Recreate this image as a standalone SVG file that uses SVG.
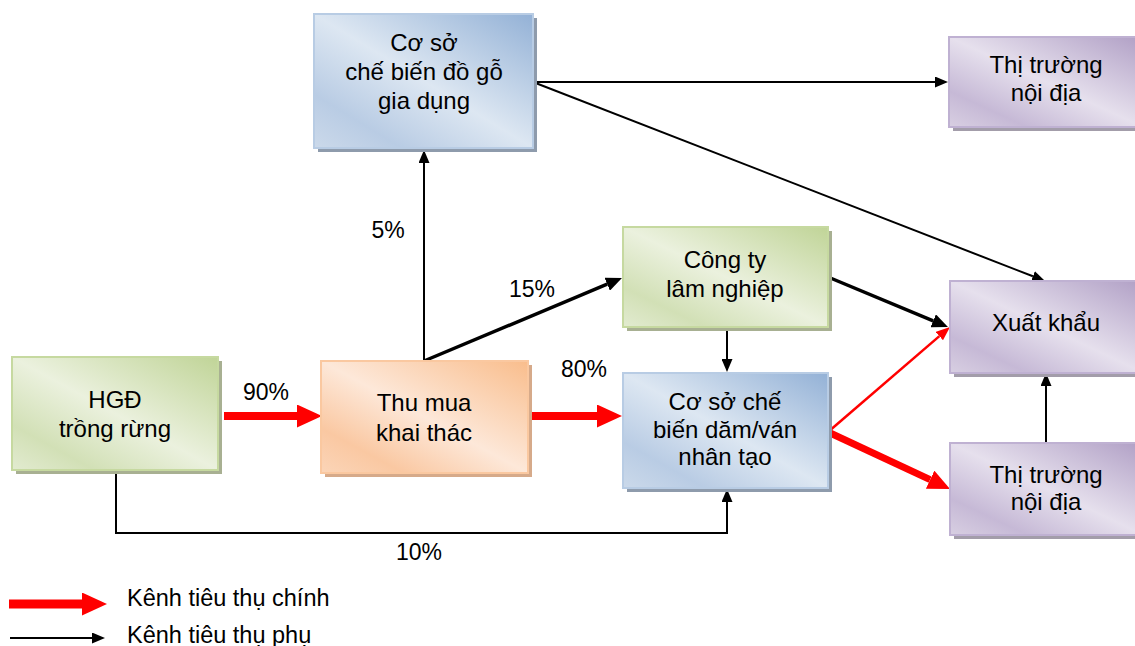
<svg xmlns="http://www.w3.org/2000/svg" width="1135" height="646" viewBox="0 0 1135 646">
<defs>
<linearGradient id="gBlue" x1="1" y1="0" x2="0" y2="1"><stop offset="0" stop-color="#93b1d6"/><stop offset="0.5" stop-color="#dde7f2"/><stop offset="0.8" stop-color="#b9cce4"/><stop offset="1" stop-color="#cbd9ea"/></linearGradient>
<linearGradient id="gGreen" x1="1" y1="0" x2="0" y2="1"><stop offset="0" stop-color="#c0d497"/><stop offset="0.5" stop-color="#ebf1de"/><stop offset="0.8" stop-color="#d2e0b6"/><stop offset="1" stop-color="#e2ebd0"/></linearGradient>
<linearGradient id="gPurple" x1="1" y1="0" x2="0" y2="1"><stop offset="0" stop-color="#b09fc5"/><stop offset="0.5" stop-color="#e6e0ed"/><stop offset="0.8" stop-color="#c6b9d6"/><stop offset="1" stop-color="#d8cfe2"/></linearGradient>
<linearGradient id="gOrange" x1="1" y1="0" x2="0" y2="1"><stop offset="0" stop-color="#f9bd8c"/><stop offset="0.5" stop-color="#fde8d9"/><stop offset="0.8" stop-color="#fac8a2"/><stop offset="1" stop-color="#fbd5b8"/></linearGradient>
<marker id="mRed" markerUnits="userSpaceOnUse" markerWidth="25" markerHeight="23" refX="0" refY="11.5" orient="auto"><path d="M0,0 L25,11.5 L0,23 z" fill="#ff0000"/></marker>
<marker id="mRedM" markerUnits="userSpaceOnUse" markerWidth="22" markerHeight="20" refX="0" refY="10" orient="auto"><path d="M0,0 L22,10 L0,20 z" fill="#ff0000"/></marker>
<marker id="mRedS" markerUnits="userSpaceOnUse" markerWidth="14" markerHeight="11" refX="0" refY="5.5" orient="auto"><path d="M0,0 L14,5.5 L0,11 z" fill="#ff0000"/></marker>
<marker id="mBlk" markerUnits="userSpaceOnUse" markerWidth="13" markerHeight="11" refX="0" refY="5.5" orient="auto"><path d="M0,0 L13,5.5 L0,11 z" fill="#000"/></marker>
<marker id="mBlkT" markerUnits="userSpaceOnUse" markerWidth="16" markerHeight="14" refX="0" refY="7" orient="auto"><path d="M0,0 L16,7 L0,14 z" fill="#000"/></marker>
</defs>
<style>
.shadow{stroke:none}
.box{stroke-width:2}
.blue{fill:url(#gBlue);stroke:#b8cce4}
.green{fill:url(#gGreen);stroke:#c6d9a0}
.purple{fill:url(#gPurple);stroke:#bfb1d2}
.orange{fill:url(#gOrange);stroke:#fac8a0}
text{font-family:"Liberation Sans",Arial,sans-serif;fill:#000;text-anchor:middle}
.t{font-size:24px}
.pct{font-size:23px}
.leg{font-size:23.5px;text-anchor:start}
.thin{stroke:#000;stroke-width:2;fill:none;marker-end:url(#mBlk)}
.thick{stroke:#000;stroke-width:3.5;fill:none;marker-end:url(#mBlkT)}
.red{stroke:#ff0000;stroke-width:8;fill:none;marker-end:url(#mRed)}
</style>
<rect width="1135" height="646" fill="#fff"/>

<g id="connectors">
<line class="red" x1="224" y1="416" x2="297" y2="416"/>
<line class="red" x1="528" y1="416" x2="597" y2="416"/>
<line x1="828" y1="432" x2="930.1" y2="479.7" stroke="#ff0000" stroke-width="7" marker-end="url(#mRedM)"/>
<line x1="828" y1="432" x2="939.4" y2="336.1" stroke="#ff0000" stroke-width="2.5" marker-end="url(#mRedS)"/>
<line class="thin" x1="424" y1="361" x2="424" y2="163"/>
<line class="thin" x1="533" y1="82" x2="935" y2="82"/>
<line class="thin" x1="533" y1="82" x2="1032.9" y2="276.3"/>
<line class="thin" x1="1046" y1="443" x2="1046" y2="386"/>
<line class="thin" x1="727" y1="327" x2="727" y2="359"/>
<polyline class="thin" points="116,470 116,533 727,533 727,502"/>
<line class="thick" x1="424" y1="361" x2="607.2" y2="284.2"/>
<line class="thick" x1="828" y1="277" x2="933.2" y2="320.8"/>
</g>

<g id="node-cosogo">
<rect class="shadow" x="318" y="18" width="219" height="134" fill="#8e9bac"/>
<rect class="box blue" x="314" y="14" width="219" height="134"/>
<text class="t" x="424" y="51">Cơ sở</text>
<text class="t" x="424" y="80">chế biến đồ gỗ</text>
<text class="t" x="424" y="109">gia dụng</text>
</g>

<g id="node-ttnd1">
<rect class="shadow" x="953" y="41" width="190" height="90" fill="#a39daa"/>
<rect class="box purple" x="949" y="37" width="194" height="90"/>
<text class="t" x="1046" y="73">Thị trường</text>
<text class="t" x="1046" y="101">nội địa</text>
</g>

<g id="node-congty">
<rect class="shadow" x="627" y="231" width="205" height="100" fill="#a8b092"/>
<rect class="box green" x="623" y="227" width="205" height="100"/>
<text class="t" x="725" y="268">Công ty</text>
<text class="t" x="725" y="297">lâm nghiệp</text>
</g>

<g id="node-xuatkhau">
<rect class="shadow" x="954" y="285" width="190" height="92" fill="#a39daa"/>
<rect class="box purple" x="950" y="281" width="194" height="92"/>
<text class="t" x="1046" y="331">Xuất khẩu</text>
</g>

<g id="node-hgd">
<rect class="shadow" x="16" y="361" width="206" height="113" fill="#a8b092"/>
<rect class="box green" x="12" y="357" width="206" height="113"/>
<text class="t" x="115" y="408">HGĐ</text>
<text class="t" x="115" y="437">trồng rừng</text>
</g>

<g id="node-thumua">
<rect class="shadow" x="325" y="365" width="207" height="112" fill="#d6aa8a"/>
<rect class="box orange" x="321" y="361" width="207" height="112"/>
<text class="t" x="424" y="411">Thu mua</text>
<text class="t" x="424" y="441">khai thác</text>
</g>

<g id="node-codam">
<rect class="shadow" x="627" y="377" width="205" height="115" fill="#8e9bac"/>
<rect class="box blue" x="623" y="373" width="205" height="115"/>
<text class="t" x="725" y="410">Cơ sở chế</text>
<text class="t" x="725" y="438">biến dăm/ván</text>
<text class="t" x="725" y="465">nhân tạo</text>
</g>

<g id="node-ttnd2">
<rect class="shadow" x="954" y="447" width="190" height="92" fill="#a39daa"/>
<rect class="box purple" x="950" y="443" width="194" height="92"/>
<text class="t" x="1046" y="483">Thị trường</text>
<text class="t" x="1046" y="510">nội địa</text>
</g>

<g id="labels">
<text class="pct" x="388" y="238">5%</text>
<text class="pct" x="532" y="297">15%</text>
<text class="pct" x="584" y="377">80%</text>
<text class="pct" x="266" y="400">90%</text>
<text class="pct" x="419" y="560">10%</text>
</g>

<g id="legend">
<line x1="9" y1="604" x2="82" y2="604" stroke="#ff0000" stroke-width="9" marker-end="url(#mRed)"/>
<line class="thin" x1="10" y1="638" x2="92" y2="638"/>
<text class="leg" x="127" y="606">Kênh tiêu thụ chính</text>
<text class="leg" x="127" y="643">Kênh tiêu thụ phụ</text>
</g>
</svg>
